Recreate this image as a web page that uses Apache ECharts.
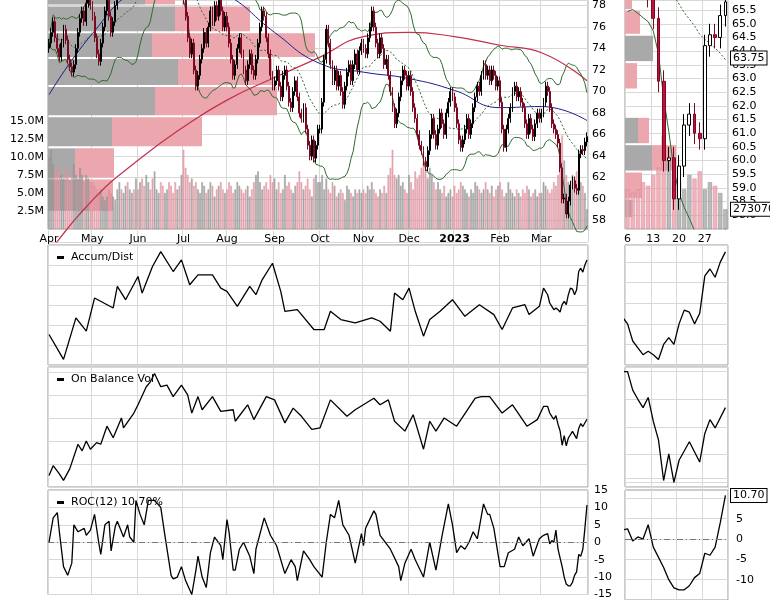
<!DOCTYPE html>
<html><head><meta charset="utf-8">
<script src="https://cdn.jsdelivr.net/npm/echarts@6/dist/echarts.min.js"></script>
<style>html,body{margin:0;padding:0;background:#fff}#c{width:770px;height:600px}</style>
</head><body><div id="c"></div>
<script>
// ---- daily closes by month (Apr 2022 - Mar 2023, weekdays) ----
const cApr=[74.5,75.5,76.5,75.0,74.0,73.2,74.5,75.8,74.8,73.0,72.3,71.8,72.5,74.0,75.5,76.8,77.5,76.5,78.2,79.0,78.0];
const cMay=[77.0,75.0,73.5,72.8,74.5,76.0,77.5,78.5,77.0,75.5,76.5,78.0,79.5,80.0,79.0,80.5,81.0,80.0,81.5,82.0,81.0,82.5];
const cJun=[82,83,82.5,81,82,83.5,82,80.5,81,82,83,82,81.5,82.5,83,82,81,80,79.5,80.5,79.0,79.5];
const cJul=[78.5,77.0,75.0,73.5,74.5,72.0,70.5,71.5,73.0,74.0,75.5,74.5,76.0,77.5,76.5,78.0,77.0,78.5,77.5,76.0,77.0];
const cAug=[76.0,74.5,73.0,71.5,72.5,74.0,75.0,73.5,72.0,71.0,72.5,73.5,72.0,71.5,73.0,74.5,76.0,77.5,77.0,75.0,73.5,71.5,70.5];
const cSep=[71.0,72.0,70.5,69.5,71.5,72.0,70.5,69.0,68.5,70.0,71.0,69.5,68.0,67.5,68.5,66.5,65.0,64.0,65.5,63.8,65.0,66.5];
const cOct=[66.5,69.0,73.0,75.8,74.5,72.5,71.0,72.0,70.5,71.5,70.0,68.8,70.5,71.8,72.5,71.0,72.5,73.5,72.0,73.8,74.5];
const cNov=[74.0,73.5,75.0,76.0,77.5,76.0,74.5,73.5,75.0,74.0,72.5,73.0,71.5,70.0,68.5,67.0,68.0,69.5,71.0,72.0,71.5,70.5];
const cDec=[71.5,70.0,68.5,67.5,66.0,65.0,64.5,63.5,63.0,64.5,66.0,67.5,66.0,65.0,66.5,68.0,67.0,66.0,68.0,69.0,70.0,69.5];
const cJan=[68.5,67.0,65.5,64.8,65.5,66.5,67.5,66.0,67.0,68.5,69.5,70.5,70.0,71.5,72.5,71.5,72.0,71.0,72.0,71.5,70.5,71.0];
const cFeb=[69.0,66.5,64.8,66.5,67.5,68.5,70.0,70.5,69.5,70.0,69.0,68.5,67.0,66.0,67.5,66.5,65.8,67.0,68.0,67.5];
const cMar=[68.0,69.0,70.5,70.0,68.5,67.0,66.5,66.0,65.2,62.9,60.0,60.1,58.6,59.8,61.3,61.7,61.0,60.8,64.2,64.6,64.5,65.3,65.8];
const firstOpen=74.0;
// ---- daily volume (millions) ----
const vApr=[10,11,9,8.5,8,8.5,7.5,7,8.5,7.5,6.5,8,9,7.5,7,8.5,7.5,6.5,7.5,7,6.5];
const vMay=[6.5,6,5.5,5,5.5,4.5,4,4.5,5.5,5,4.5,4,5.5,6.5,5.5,5,6,6.5,5.5,5,5.5,7];
const vJun=[5.5,6.5,7,6,7.5,6.5,5.5,7,8,5.5,5,6.5,6,5,5.5,6.5,6,5,6.5,5.5,6,7.5];
const vJul=[11,8.5,7.5,6.5,7,6,6.5,5.5,5,6.5,6,5,5.5,6.5,6,4.5,5.5,6,6.5,5.5,5];
const vAug=[5.5,6.5,6,5,5.5,6.5,6,5.5,5,5.5,6,4.5,5.5,6.5,7.5,8,6.5,5.5,6,6.5,5.5,7.5,6.5];
const vSep=[7,5.5,6.5,5,5.5,7.5,6,6.5,5.5,5,6,6.5,8,6.5,5.5,6,7,5.5,4.5,7,7.5,6.5];
const vOct=[6.5,7.5,5.5,7,5.5,5,6.5,6,4.5,5,5.5,5,4,6,5.5,5,4.5,5.5,5,5.5,5];
const vNov=[5.5,5,6,5.5,6.5,5.5,5,4.5,5.5,5,6,5,7.5,8.5,11,7.5,7,7.5,6,6.5,5.5,5];
const vDec=[7.5,6.5,5.5,8,7,7.5,8.5,9.5,8,7,8.5,7.5,6.5,5.5,6.5,5.5,5,6,4.5,5,5.5,4.5];
const vJan=[6,5,5.5,6.5,6,5.5,5,4.5,5.5,5,6.5,6,5.5,5,5.5,6.5,5.5,5,6,4.5,5.5,6];
const vFeb=[6.5,5.5,4.5,5,6.5,5.5,5,4.5,5.5,5,4.5,5.5,5,6,5.5,4.5,5,5.5,4.5,5];
const vMar=[5,6.5,6,5.5,5,5.5,6.5,6,7.5,8.5,13,9.5,7.5,6.5,5.5,7.5,7,8,5.5,6.5,6,5,2.7307];
// ---- moving averages read at month starts (+ last day) ----
const ma200Pts=[55.0,59.9,63.6,66.7,69.2,71.3,73.2,75.1,75.5,75.1,74.3,73.6,71.0];
const ma50Pts=[69.7,75.4,79.5,80.5,79.0,75.5,72.6,71.8,71.2,70.1,68.5,68.6,67.3];
// ---- volume by price [lo, hi, upVol, downVol] ----
const vbpLeft=[[58.8,61.9,27,38],[61.9,64.8,27,39],[64.8,67.7,64,90],[67.7,70.5,107,122],[70.5,73.1,130,94],[73.1,75.5,104,163],[75.5,78.0,127,75],[78.0,80.5,97,30]];
const vbpRight=[[57.9,58.6,8,0],[58.6,59.6,0,17],[59.6,60.6,27,24],[60.6,61.6,13,11],[62.6,63.6,0,12],[63.6,64.6,28,0],[64.6,65.5,0,15],[65.5,66.5,0,7]];
// ---- indicators [day index, value] ----
const adPts=[[0,120],[7,45],[13,170],[18,130],[22,230],[31,200],[33,265],[37,225],[43,295],[45,245],[50,325],[54,370],[60,310],[64,345],[68,270],[72,300],[79,300],[83,260],[86,250],[91,205],[97,265],[100,240],[103,285],[108,335],[112,250],[114,190],[120,195],[128,135],[133,135],[136,190],[141,165],[148,155],[156,170],[160,160],[165,130],[167,245],[171,225],[174,260],[177,190],[181,115],[184,165],[189,190],[195,225],[201,175],[208,210],[215,180],[219,135],[224,200],[230,210],[232,180],[237,205],[239,260],
[241,240],[242,215],[243,205],[244,195],[245,200],[246,195],[247,188],[248,210],[249,220],[250,210],[251,240],[252,260],[253,257],[254,240],[255,255],[256,310],[257,320],[258,308],[259,330],[260,345]];
const obvPts=[[0,90],[2,120],[5,95],[7,75],[10,110],[14,185],[16,165],[18,195],[20,170],[23,190],[25,185],[28,240],[31,205],[35,265],[36,235],[41,280],[43,305],[47,360],[49,375],[51,400],[54,360],[57,365],[60,330],[64,365],[67,335],[69,280],[72,330],[74,290],[79,330],[83,285],[89,290],[90,255],[96,305],[99,260],[105,330],[109,320],[114,250],[118,295],[122,270],[127,230],[131,235],[136,320],[144,270],[148,290],[157,325],[160,305],[164,320],[167,255],[172,225],[176,275],[181,170],[184,255],[187,225],[191,265],[197,240],[206,325],[209,330],[213,330],[219,280],[224,305],[231,240],[236,260],[239,300],
[241,300],[242,280],[243,270],[244,261],[245,272],[246,246],[247,226],[248,182],[249,211],[250,180],[251,204],[253,224],[255,202],[256,233],[257,248],[258,239],[260,261]];
const rocPts=[[0,0],[2,7],[4,8.5],[5,3],[7,-7],[9,-9.5],[11,-6],[12,5],[14,3],[17,4],[18,2],[20,3.5],[22,8],[24,0],[25,-3.5],[27,5],[29,6],[30,-2.5],[32,4.5],[33,6],[36,1.5],[38,5],[39,1.5],[41,0],[42,12],[44,8],[46,5],[48,12],[51,12],[54,10],[56,2],[59,-9.5],[60,-10.5],[62,-10],[64,-7],[66,-11],[69,-15],[71,-8],[72,-4],[74,-10],[76,-13],[78,-3],[80,1.5],[83,-1],[84,-5],[86,6.5],[87,3],[89,-8],[90,-8],[92,-2],[94,0],[97,-4],[99,-9],[100,-2],[104,7],[107,2],[110,-1],[114,-9],[117,-5],[119,-7],[120,-11],[123,-2.5],[126,-5],[128,-7],[132,-10],[134,0],[136,8],[138,7],[140,12],[142,5],[145,2],[148,-6],[151,2.5],[152,-1],[153,4],[157,9],[158,8],[160,2],[165,-2],[169,-7],[170,-11],[172,-6],[175,-2],[177,-5],[181,-10],[184,0],[187,-8],[190,2],[193,11],[195,5],[197,-3],[199,-1],[201,-2],[203,0],[205,3],[207,1],[210,11],[212,8],[213,8],[215,4],[218,-7],[220,-7],[222,-3],[225,-2],[227,1.5],[229,-1],[232,1],[234,-4],[237,1],[239,2],
[241,2.5],[242,-0.5],[243,0.5],[244,0],[245,3.5],[246,-2],[248,-7],[249,-10],[250,-12],[251,-12.5],[252,-12.5],[253,-11.5],[254,-9.5],[255,-8.5],[256,-3.5],[257,-4],[258,-2],[259,4],[260,10.7]];
const monthNames=['Jan','Feb','Mar','Apr','May','Jun','Jul','Aug','Sep','Oct','Nov','Dec'];

// ---- build ----
const closes=[].concat(cApr,cMay,cJun,cJul,cAug,cSep,cOct,cNov,cDec,cJan,cFeb,cMar);
const vols=[].concat(vApr,vMay,vJun,vJul,vAug,vSep,vOct,vNov,vDec,vJan,vFeb,vMar);
const N=closes.length;
const days=[];{let d=new Date(Date.UTC(2022,3,1));while(days.length<N){const w=d.getUTCDay();if(w!==0&&w!==6)days.push(new Date(d));d.setUTCDate(d.getUTCDate()+1);}}
const cats=days.map(d=>d.toISOString().slice(0,10));
const isMS=i=>i===0||days[i].getUTCMonth()!==days[i-1].getUTCMonth();
const msIdx=[];for(let i=0;i<N;i++)if(isMS(i))msIdx.push(i);msIdx.push(N-1);
const candles=closes.map((c,i)=>{const o=i?closes[i-1]:firstOpen;return [o,c,Math.min(o,c)-0.4,Math.max(o,c)+0.4];});
const volData=vols.map((v,i)=>{const up=candles[i][1]>=candles[i][0];return {value:v,itemStyle:{color:up?'rgba(170,170,170,0.8)':'rgba(238,160,172,0.8)',borderColor:up?'#8a8a8a':'#d78a96',borderWidth:0.5}};});
const ma20=[],bbU=[],bbL=[];
for(let i=0;i<N;i++){const w=closes.slice(Math.max(0,i-19),i+1);const m=w.reduce((a,b)=>a+b,0)/w.length;const sd=Math.sqrt(w.reduce((a,b)=>a+(b-m)*(b-m),0)/w.length);ma20.push(+m.toFixed(3));bbU.push(+(m+2*sd).toFixed(3));bbL.push(+(m-2*sd).toFixed(3));}
const ma200=ma200Pts.map((v,k)=>[msIdx[k],v]);
const ma50=ma50Pts.map((v,k)=>[msIdx[k],v]);
const R0=241;
const rcats=cats.slice(R0);
const isMon=i=>days[i].getUTCDay()===1;
const font='DejaVu Sans';
const GC='#d8d8d8';
function vbpSeries(x,y,data){return {type:'custom',xAxisIndex:x,yAxisIndex:y,z:1,silent:true,data:data,
 renderItem:(p,api)=>{const lo=api.value(0),hi=api.value(1),g=api.value(2),q=api.value(3);const a=api.coord([0,hi]),b=api.coord([g,lo]),c=api.coord([g+q,lo]);
 const h=b[1]-a[1]-2;return {type:'group',children:[{type:'rect',shape:{x:a[0],y:a[1]+1,width:b[0]-a[0],height:h},style:{fill:'#a9a9a9'}},{type:'rect',shape:{x:b[0],y:a[1]+1,width:c[0]-b[0],height:h},style:{fill:'#eba6ae'}}]};}};}
const L={left:48,width:540},Rg={left:625,width:103};
const grids=[
 {...L,top:0,height:242,show:false},
 {...L,top:0,height:229,show:true,borderColor:'#999',backgroundColor:'transparent'},
 {...L,top:0,height:242,show:false},
 {...Rg,top:0,height:229,show:false},
 {...Rg,top:0,height:229,show:true,borderColor:'#999'},
 {...Rg,top:0,height:229,show:false},
 {...L,top:245,height:120,show:true,borderColor:'#999'},
 {...Rg,top:245,height:120,show:true,borderColor:'#999'},
 {...L,top:367,height:120,show:true,borderColor:'#999'},
 {...Rg,top:367,height:120,show:true,borderColor:'#999'},
 {...L,top:490,height:113,show:true,borderColor:'#999'},
 {...Rg,top:478,height:132,show:false},
 {...Rg,top:490,height:115,show:true,borderColor:'#999'}
];
const hid={show:false};
function catX(g,data,lab,splitFn){return {type:'category',gridIndex:g,data:data,boundaryGap:true,axisLine:hid,axisTick:hid,
 axisLabel:lab||{show:false},splitLine:{show:true,interval:splitFn,lineStyle:{color:GC}}};}
const msFn=(i)=>isMS(i);
const monFn=(i)=>isMon(i+R0);
const xAxes=[
 catX(0,cats,null,msFn),
 catX(1,cats,{show:true,interval:msFn,fontFamily:font,fontSize:11,color:'#000',margin:5,
   formatter:(v,i)=>{const d=days[i];return d.getUTCMonth()===0?'{b|'+d.getUTCFullYear()+'}':monthNames[d.getUTCMonth()];},rich:{b:{fontWeight:'bold',fontFamily:font,fontSize:11}}},msFn),
 {type:'value',gridIndex:2,min:0,max:540,show:false},
 catX(3,rcats,null,monFn),
 catX(4,rcats,{show:true,interval:monFn,fontFamily:font,fontSize:11,color:'#000',margin:5,formatter:(v,i)=>String(days[i+R0].getUTCDate())},monFn),
 {type:'value',gridIndex:5,min:0,max:103,show:false},
 catX(6,cats,null,msFn),catX(7,rcats,null,monFn),catX(8,cats,null,msFn),catX(9,rcats,null,monFn),catX(10,cats,null,msFn),catX(11,rcats,null,monFn),
 {type:'value',gridIndex:0,min:-0.5,max:N-0.5,show:false},
 {type:'value',gridIndex:6,min:-0.5,max:N-0.5,show:false},
 {type:'value',gridIndex:7,min:R0-0.5,max:N-0.5,show:false},
 {type:'value',gridIndex:8,min:-0.5,max:N-0.5,show:false},
 {type:'value',gridIndex:9,min:R0-0.5,max:N-0.5,show:false},
 {type:'value',gridIndex:10,min:-0.5,max:N-0.5,show:false},
 {type:'value',gridIndex:11,min:R0-0.5,max:N-0.5,show:false},
 {type:'category',gridIndex:12,data:rcats,show:false}
];
const lab={fontFamily:font,fontSize:11,color:'#000'};
const yAxes=[
 {type:'value',gridIndex:0,position:'right',min:56,max:78.5,interval:2,axisLine:hid,axisTick:hid,splitLine:{show:true,lineStyle:{color:GC}},
  axisLabel:{...lab,margin:4,formatter:v=>v>=58&&v<=78?String(v):''}},
 {type:'value',gridIndex:1,position:'left',min:0,max:31.8,interval:2.5,axisLine:hid,axisTick:hid,splitLine:hid,
  axisLabel:{...lab,margin:4,formatter:v=>v>0&&v<=15?v.toFixed(1)+'M':''}},
 {type:'value',gridIndex:2,min:56,max:78.5,show:false},
 {type:'value',gridIndex:3,position:'right',min:57.5,max:65.87,interval:0.5,axisLine:hid,axisTick:hid,splitLine:{show:true,lineStyle:{color:GC}},
  axisLabel:{...lab,margin:4,formatter:v=>v>=58&&v<=65.5?v.toFixed(1):''}},
 {type:'value',gridIndex:4,min:0,max:31.8,show:false},
 {type:'value',gridIndex:5,min:57.5,max:65.87,show:false},
 {type:'value',gridIndex:6,min:28,max:390,interval:60,axisLabel:hid,axisLine:hid,axisTick:hid,splitLine:{show:true,lineStyle:{color:GC}}},
 {type:'value',gridIndex:7,min:180,max:355,axisLabel:hid,axisLine:hid,axisTick:hid,splitLine:{show:true,lineStyle:{color:GC}}},
 {type:'value',gridIndex:8,min:55,max:420,interval:70,axisLabel:hid,axisLine:hid,axisTick:hid,splitLine:{show:true,lineStyle:{color:GC}}},
 {type:'value',gridIndex:9,min:175,max:305,axisLabel:hid,axisLine:hid,axisTick:hid,splitLine:{show:true,lineStyle:{color:GC}}},
 {type:'value',gridIndex:10,position:'right',min:-15,max:15,interval:5,axisLine:hid,axisTick:hid,splitLine:{show:true,lineStyle:{color:GC}},axisLabel:{...lab,margin:6}},
 {type:'value',gridIndex:11,position:'right',min:-15,max:15,interval:5,axisLine:hid,axisTick:hid,splitLine:{show:true,lineStyle:{color:GC}},axisLabel:{...lab,margin:8,formatter:v=>(v<=10&&v>=-10)?String(v):''}},
 {type:'value',gridIndex:12,show:false}
];
const blk={color:'#000',width:1.3};
const tag=(val,txt)=>({symbol:'none',silent:true,lineStyle:{color:'rgba(0,0,0,0)',width:0},data:[{yAxis:val}],
  label:{show:true,position:'end',formatter:txt,fontFamily:font,fontSize:11,color:'#000',backgroundColor:'#fff',borderColor:'#000',borderWidth:1,padding:[1,2],distance:3,opacity:1}});
const candleStyle={color:'#ffffff',color0:'#c4103c',borderColor:'#000',borderColor0:'#7a0a22',borderWidth:1};
const series=[
 vbpSeries(2,2,vbpLeft),
 {type:'bar',xAxisIndex:1,yAxisIndex:1,data:volData,barWidth:'75%',z:2,silent:true},
 {type:'line',xAxisIndex:12,yAxisIndex:0,data:ma200,symbol:'none',smooth:true,lineStyle:{color:'#c2304e',width:1.2},z:3},
 {type:'line',xAxisIndex:12,yAxisIndex:0,data:ma50,symbol:'none',smooth:true,lineStyle:{color:'#1c1c8a',width:1},z:3},
 {type:'line',xAxisIndex:0,yAxisIndex:0,data:bbU,symbol:'none',lineStyle:{color:'#2e6b2e',width:1},z:3},
 {type:'line',xAxisIndex:0,yAxisIndex:0,data:bbL,symbol:'none',lineStyle:{color:'#2e6b2e',width:1},z:3},
 {type:'line',xAxisIndex:0,yAxisIndex:0,data:ma20,symbol:'none',lineStyle:{color:'#2e6b2e',width:1,type:[2,2]},z:3},
 {type:'candlestick',xAxisIndex:0,yAxisIndex:0,data:candles,barWidth:'70%',itemStyle:candleStyle,z:4,clip:true},
 vbpSeries(5,5,vbpRight),
 {type:'bar',xAxisIndex:4,yAxisIndex:4,data:volData.slice(R0),barWidth:'80%',z:2,silent:true},
 {type:'line',xAxisIndex:3,yAxisIndex:3,data:bbL.slice(R0),symbol:'none',lineStyle:{color:'#2e6b2e',width:1},z:3},
 {type:'line',xAxisIndex:3,yAxisIndex:3,data:ma20.slice(R0),symbol:'none',lineStyle:{color:'#2e6b2e',width:1,type:[2,2]},z:3},
 {type:'candlestick',xAxisIndex:3,yAxisIndex:3,data:candles.slice(R0),barWidth:'65%',itemStyle:candleStyle,z:4,clip:true},
 {type:'line',xAxisIndex:3,yAxisIndex:3,data:[],symbol:'none',clip:false,z:10,markLine:tag(63.75,'63.75')},
 {type:'line',xAxisIndex:4,yAxisIndex:4,data:[],symbol:'none',clip:false,z:10,markLine:tag(2.7307,'2730700')},
 {type:'line',xAxisIndex:13,yAxisIndex:6,data:adPts,symbol:'none',lineStyle:blk},
 {type:'line',xAxisIndex:14,yAxisIndex:7,data:adPts.filter(p=>p[0]>=239),symbol:'none',lineStyle:blk},
 {type:'line',xAxisIndex:15,yAxisIndex:8,data:obvPts,symbol:'none',lineStyle:blk},
 {type:'line',xAxisIndex:16,yAxisIndex:9,data:obvPts.filter(p=>p[0]>=239),symbol:'none',lineStyle:blk},
 {type:'line',xAxisIndex:17,yAxisIndex:10,data:rocPts,symbol:'none',lineStyle:blk,
   markLine:{symbol:'none',silent:true,label:{show:false},lineStyle:{color:'#777',type:[6,3,1,3],width:1},data:[{yAxis:0}]}},
 {type:'line',xAxisIndex:18,yAxisIndex:11,data:rocPts.filter(p=>p[0]>=239),symbol:'none',lineStyle:blk,
   markLine:{symbol:'none',silent:true,label:{show:false},lineStyle:{color:'#777',type:[6,3,1,3],width:1},data:[{yAxis:0}]}},
 {type:'line',xAxisIndex:18,yAxisIndex:11,data:[],symbol:'none',clip:false,z:10,markLine:tag(10.7,'10.70')},
 {type:'line',xAxisIndex:19,yAxisIndex:12,data:[],symbol:'none'}
];
const ttl=(t,top)=>({text:'{m|}  '+t,left:52,top:top,textStyle:{fontFamily:font,fontSize:11,fontWeight:'normal',color:'#000',rich:{m:{width:7,height:3,backgroundColor:'#000'}}}});
const chart=echarts.init(document.getElementById('c'),null,{renderer:'canvas'});
chart.setOption({animation:false,backgroundColor:'#fff',
 title:[ttl('Accum/Dist',247),ttl('On Balance Vol',369),ttl('ROC(12) 10.70%',492)],
 grid:grids,xAxis:xAxes,yAxis:yAxes,series:series});
</script></body></html>
